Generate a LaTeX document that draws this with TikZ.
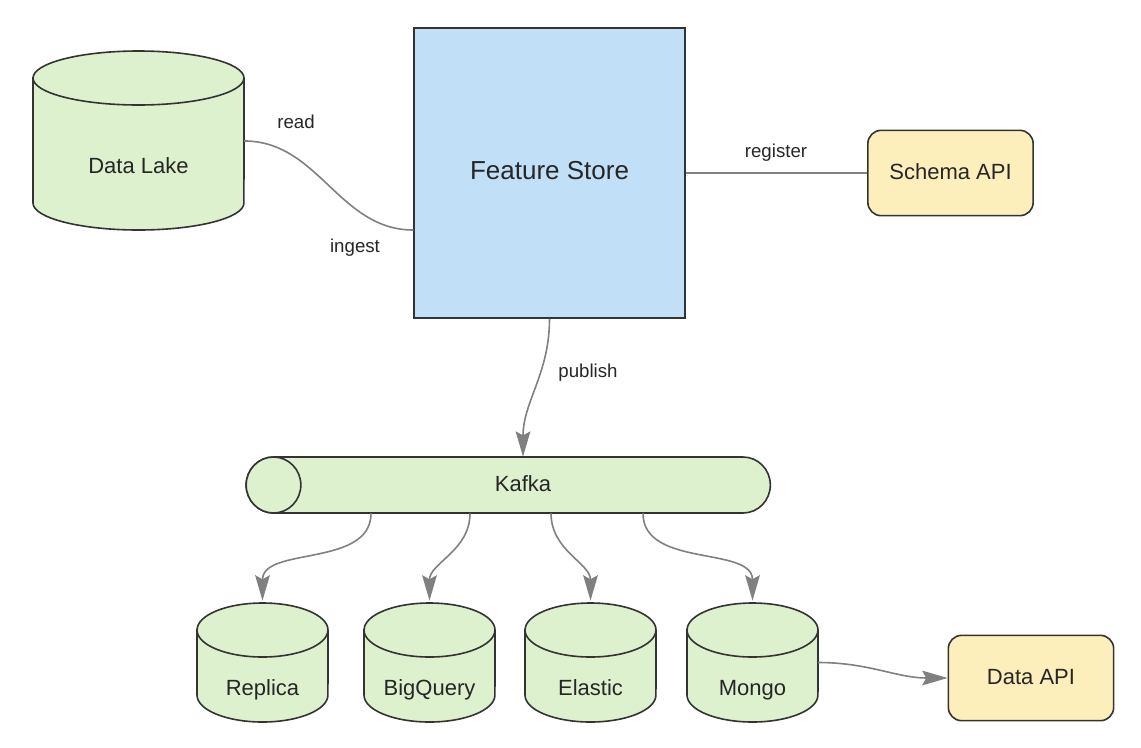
\documentclass[tikz,border=0pt]{standalone}
\usepackage{fontspec}
\setmainfont{Liberation Sans}
\usetikzlibrary{positioning,arrows.meta}

\definecolor{dbgreen}{RGB}{222,241,206}
\definecolor{fsblue}{RGB}{193,224,248}
\definecolor{apiyellow}{RGB}{253,239,187}
\definecolor{edgegray}{RGB}{128,128,128}
\definecolor{inkgray}{RGB}{51,51,51}

\begin{document}
\begin{tikzpicture}[x=0.75pt,y=-0.75pt,
  every node/.style={text=black!85,font=\fontsize{16.5}{20}\selectfont,text height=1.1em,text depth=0.18em},
  db/.style={draw=inkgray,line width=1.2pt,fill=dbgreen},
  api/.style={draw=inkgray,line width=1.2pt,fill=apiyellow,rounded corners=10pt,minimum width=124pt,minimum height=64pt},
  lbl/.style={font=\fontsize{14}{17}\selectfont},
  flow/.style={draw=edgegray,line width=1.2pt},
  arr/.style={flow,-{Stealth[length=19pt,width=11pt,inset=3pt]}}]

\useasboundingbox (0,0) rectangle (1141,747);

% Data Lake
\draw[db] (33,78)--(33,203) arc[start angle=180,end angle=360,x radius=79.1pt,y radius=20.25pt]--(244,78) arc[start angle=0,end angle=180,x radius=79.1pt,y radius=20.25pt]--cycle;
\draw[db,fill=none] (33,78) arc[start angle=180,end angle=360,x radius=79.1pt,y radius=20.25pt];
\node[minimum width=158pt,minimum height=94pt] (lake) at (138.5,167.5) {Data Lake};

\node[draw=inkgray,line width=1.2pt,fill=fsblue,minimum width=203pt,minimum height=217.5pt,font=\fontsize{19.5}{23}\selectfont] (fs) at (549.5,173) {Feature Store};
\node[api] (schema) at (950.5,173) {Schema API};
\node[api] (dapi) at (1031,678) {Data API};

% Kafka
\draw[db] (273.5,457)--(743,457) arc[start angle=90,end angle=-90,x radius=20.5pt,y radius=21pt]--(273.5,513) arc[start angle=270,end angle=90,x radius=20.5pt,y radius=21pt]--cycle;
\draw[db] (273.5,485) ellipse[x radius=20.5pt,y radius=21pt];
\node[minimum width=375pt,minimum height=42pt] (kafka) at (523,485) {Kafka};

% sinks
\foreach \name/\cx/\txt in {rep/262.5/Replica,bq/429.5/BigQuery,es/590.5/Elastic,mongo/752.5/Mongo}{
  \draw[db] (\cx-65.5,630)--(\cx-65.5,695) arc[start angle=180,end angle=360,x radius=49.1pt,y radius=20.25pt]--(\cx+65.5,630) arc[start angle=0,end angle=180,x radius=49.1pt,y radius=20.25pt]--cycle;
  \draw[db,fill=none] (\cx-65.5,630) arc[start angle=180,end angle=360,x radius=49.1pt,y radius=20.25pt];
  \node[minimum width=98pt,minimum height=49pt] (\name) at (\cx,689.5) {\txt};
}

\draw[flow] ([yshift=19.9pt]lake.east) to[out=0,in=180] ([yshift=-42.75pt]fs.west);
\draw[flow] (fs.east) -- (schema.west);
\draw[arr] (fs.south) to[out=-90,in=90] (kafka.north);
\foreach \dx/\name in {-114pt/rep,-39.75pt/bq,21pt/es,90pt/mongo}
  \draw[arr] ([xshift=\dx]kafka.south) to[out=-90,in=90] ([yshift=42pt]\name.north);
\draw[arr] ([yshift=20.25pt]mongo.east) to[out=0,in=180] (dapi.west);

\node[lbl] (readlbl) at (296,122) {read};
\node[lbl] (ingestlbl) at (355,246) {ingest};
\node[lbl] (reglbl) at (776,151) {register};
\node[lbl] (publbl) at (588,371) {publish};

\end{tikzpicture}
\end{document}
